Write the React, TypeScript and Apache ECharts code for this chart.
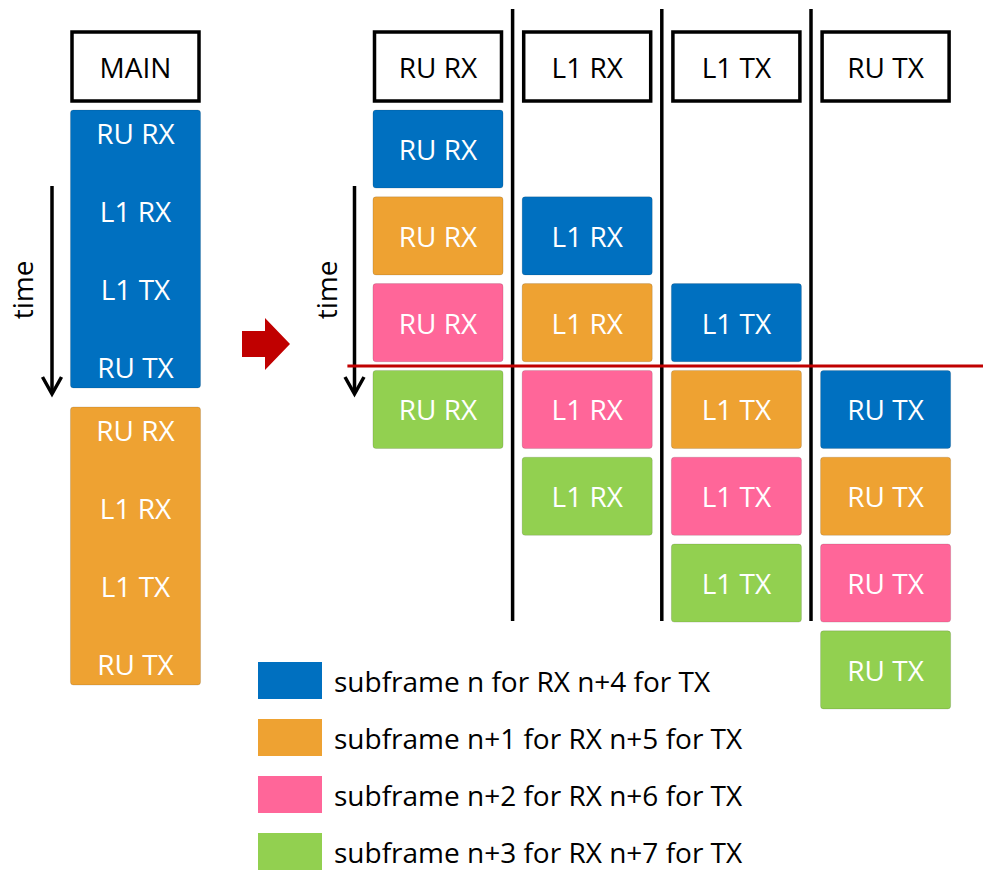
import React, { useEffect, useRef } from "react";
import * as echarts from "echarts";

// ---------- data ----------
const stages = ["RU RX", "L1 RX", "L1 TX", "RU TX"];
const mainHeader = ["MAIN"];
const mainTasks = ["RU RX", "L1 RX", "L1 TX", "RU TX"];
const subframeNames = [
  "subframe n for RX n+4 for TX",
  "subframe n+1 for RX n+5 for TX",
  "subframe n+2 for RX n+6 for TX",
  "subframe n+3 for RX n+7 for TX",
];
const subframeColors = ["#0070C0", "#EEA232", "#FF6699", "#92D050"];
// time slot of each stage (RU RX, L1 RX, L1 TX, RU TX) per subframe
const rowsSubframeN = [0, 1, 2, 3];
const rowsSubframeN1 = [1, 2, 3, 4];
const rowsSubframeN2 = [2, 3, 4, 5];
const rowsSubframeN3 = [3, 4, 5, 6];
const stageRows = [rowsSubframeN, rowsSubframeN1, rowsSubframeN2, rowsSubframeN3];
// subframes handled one after another by the MAIN thread
const mainSubframes = [0, 1];
// "now" marker (between time slot 2 and 3)
const nowSlot = 2.95;
const timeLabel = "time";

// ---------- layout ----------
const FONT = "Open Sans";
const FS = 28;
const BLOCK_W = 0.872;
const BLOCK_H = 0.9;
const MAIN_BLOCK_H = 0.936;
const MAIN_LINE_TOP = 0.079;
const MAIN_LINE_STEP = 0.2616;
const SEP_TOP = -1.164;
const SEP_BOTTOM = 5.887;

const headerLabel = {
  show: true,
  interval: 0,
  margin: 9,
  color: "#000",
  fontSize: FS,
  fontFamily: FONT,
  width: 127,
  height: 69,
  lineHeight: 69,
  borderColor: "#000",
  borderWidth: 3.5,
  align: "center",
};

export default function App() {
  const ref = useRef<HTMLDivElement>(null);
  useEffect(() => {
    if (!ref.current) return;
    const chart = echarts.init(ref.current, null, { renderer: "svg" });

    const stageSeries = subframeNames.map((name, s) => ({
      type: "custom",
      name,
      xAxisIndex: 1,
      yAxisIndex: 1,
      clip: false,
      itemStyle: { color: subframeColors[s] },
      data: stageRows[s].map((r, c) => [c, r]),
      renderItem: (params: any, api: any) => {
        const c = api.value(0);
        const r = api.value(1);
        const [cx, y] = api.coord([c, r]);
        const bw = api.size([1, 0])[0];
        const h = api.size([0, BLOCK_H])[1];
        const w = bw * BLOCK_W;
        return {
          type: "group",
          children: [
            {
              type: "rect",
              shape: { x: cx - w / 2, y, width: w, height: h, r: 3 },
              style: { fill: subframeColors[s], stroke: "rgba(0,0,0,0.12)", lineWidth: 1 },
            },
            {
              type: "text",
              x: cx,
              y: y + h / 2,
              style: {
                text: stages[c],
                fill: "#fff",
                fontSize: FS,
                fontFamily: FONT,
                align: "center",
                verticalAlign: "middle",
              },
            },
          ],
        };
      },
    }));

    const mainSeries = {
      type: "custom",
      name: "main",
      xAxisIndex: 0,
      yAxisIndex: 0,
      clip: false,
      data: mainSubframes.map((s) => [0, s]),
      renderItem: (params: any, api: any) => {
        const s = api.value(1);
        const [cx, y] = api.coord([0, s]);
        const bw = api.size([1, 0])[0];
        const h = api.size([0, MAIN_BLOCK_H])[1];
        const w = bw * BLOCK_W;
        const children: any[] = [
          {
            type: "rect",
            shape: { x: cx - w / 2, y, width: w, height: h, r: 3 },
            style: { fill: subframeColors[s], stroke: "rgba(0,0,0,0.12)", lineWidth: 1 },
          },
        ];
        mainTasks.forEach((t, k) => {
          const ty = api.coord([0, s + MAIN_LINE_TOP + k * MAIN_LINE_STEP])[1];
          children.push({
            type: "text",
            x: cx,
            y: ty,
            style: {
              text: t,
              fill: "#fff",
              fontSize: FS,
              fontFamily: FONT,
              align: "center",
              verticalAlign: "middle",
            },
          });
        });
        return { type: "group", children };
      },
    };

    const decorSeries = {
      type: "custom",
      name: "decor",
      xAxisIndex: 1,
      yAxisIndex: 1,
      clip: false,
      silent: true,
      data: [[0, 0]],
      renderItem: (params: any, api: any) => {
        const bw = api.size([1, 0])[0];
        const children: any[] = [];
        for (let c = 0; c < stages.length - 1; c++) {
          const x = api.coord([c, 0])[0] + bw / 2;
          const y1 = api.coord([c, SEP_TOP])[1];
          const y2 = api.coord([c, SEP_BOTTOM])[1];
          children.push({
            type: "line",
            shape: { x1: x, y1, x2: x, y2 },
            style: { stroke: "#000", lineWidth: 3.5 },
          });
        }
        const ny = api.coord([0, nowSlot])[1];
        const x1 = api.coord([0, 0])[0] - bw / 2 - 16;
        children.push({
          type: "line",
          shape: { x1, y1: ny, x2: api.getWidth(), y2: ny },
          style: { stroke: "#C00000", lineWidth: 3 },
        });
        return { type: "group", children };
      },
    };

    const arrow = (x: number) => [
      {
        type: "line",
        shape: { x1: x, y1: 186, x2: x, y2: 393 },
        style: { stroke: "#000", lineWidth: 3.5 },
      },
      {
        type: "polyline",
        shape: { points: [[x - 9.5, 377], [x, 394], [x + 9.5, 377]] },
        style: { stroke: "#000", lineWidth: 3.5, fill: "none" },
      },
    ];

    const option: any = {
      animation: false,
      textStyle: { fontFamily: FONT },
      color: subframeColors,
      grid: [
        { left: 60.9, top: 110, width: 149.2, height: 594 },
        { left: 363.4, top: 110, width: 596.8, height: 607.6 },
      ],
      xAxis: [
        {
          type: "category",
          gridIndex: 0,
          position: "top",
          data: mainHeader,
          axisLine: { show: false },
          axisTick: { show: false },
          splitLine: { show: false },
          axisLabel: headerLabel,
        },
        {
          type: "category",
          gridIndex: 1,
          position: "top",
          data: stages,
          axisLine: { show: false },
          axisTick: { show: false },
          splitLine: { show: false },
          axisLabel: headerLabel,
        },
      ],
      yAxis: [
        { type: "value", gridIndex: 0, min: 0, max: 2, inverse: true, show: false },
        { type: "value", gridIndex: 1, min: 0, max: 7, inverse: true, show: false },
      ],
      legend: {
        orient: "vertical",
        left: 258,
        top: 662,
        padding: 0,
        itemWidth: 64,
        itemHeight: 37,
        itemGap: 20,
        icon: "rect",
        selectedMode: false,
        data: subframeNames,
        textStyle: { fontSize: FS, fontFamily: FONT, color: "#000", padding: [0, 0, 0, 7] },
      },
      graphic: [
        ...arrow(52),
        ...arrow(354.5),
        {
          type: "text",
          x: 22,
          y: 290,
          rotation: Math.PI / 2,
          style: { text: timeLabel, fontSize: FS, fontFamily: FONT, fill: "#000", align: "center", verticalAlign: "middle" },
        },
        {
          type: "text",
          x: 326,
          y: 290,
          rotation: Math.PI / 2,
          style: { text: timeLabel, fontSize: FS, fontFamily: FONT, fill: "#000", align: "center", verticalAlign: "middle" },
        },
        {
          type: "polygon",
          shape: {
            points: [[242, 331], [265, 331], [265, 318], [290, 344], [265, 370], [265, 357], [242, 357]],
          },
          style: { fill: "#C00000" },
        },
      ],
      series: [mainSeries, ...stageSeries, decorSeries],
    };
    chart.setOption(option);
    return () => chart.dispose();
  }, []);
  return (
    <div
      ref={ref}
      style={{ position: "absolute", left: 0, top: 0, width: 983, height: 870, background: "#fff" }}
    />
  );
}
